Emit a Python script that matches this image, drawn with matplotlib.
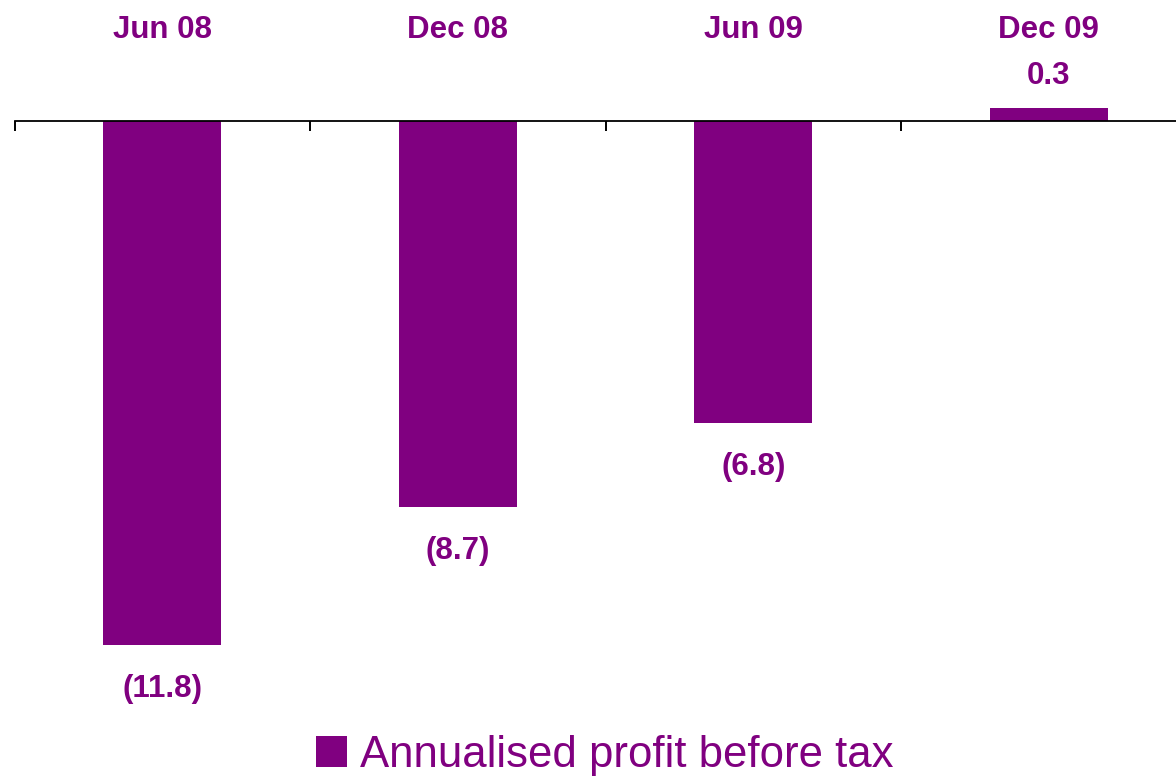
import numpy as np
import matplotlib
matplotlib.use("Agg")
import matplotlib.pyplot as plt
from matplotlib.transforms import blended_transform_factory

plt.rcParams['font.family'] = ['Liberation Sans', 'DejaVu Sans']

# data
periods = ["Jun 08", "Dec 08", "Jun 09", "Dec 09"]
profit = [-11.8, -8.7, -6.8, 0.3]
series_name = "Annualised profit before tax"

purple = "#800080"

fig = plt.figure(figsize=(11.76, 7.78), dpi=100)
W, H = 1176, 778
# axes: x from pixel 14.5, one category = 295.5 px; zero line at pixel 121
ax = fig.add_axes([14.5 / W, 78 / H, 1182 / W, 600 / H])

x = np.arange(len(periods))
bars = ax.bar(x, profit, width=0.4, color=purple, zorder=1)

ax.set_xlim(-0.5, 3.5)
px_per_unit = 44.4
ax.set_ylim(-579 / px_per_unit, 21 / px_per_unit)

for s in ["top", "left", "right"]:
    ax.spines[s].set_visible(False)
ax.spines["bottom"].set_position(("data", 0))
ax.spines["bottom"].set_linewidth(1.3)
ax.spines["bottom"].set_zorder(3)
ax.set_yticks([])
ax.set_xticks(np.arange(-0.5, len(periods), 1.0))
ax.set_xticklabels([])
ax.tick_params(axis="x", direction="out", length=7.5, width=1.4, color="black")

# category labels along the top
trans = blended_transform_factory(ax.transData, fig.transFigure)
for i, p in enumerate(periods):
    ax.text(i, 1 - 30 / H, p, transform=trans, ha="center", va="center",
            fontsize=22.5, fontweight="bold", color=purple)

# value labels
for i, v in enumerate(profit):
    txt = "({:.1f})".format(-v) if v < 0 else "{:.1f}".format(v)
    off = -44 if v < 0 else 32
    ax.annotate(txt, (i, v), xytext=(0, off), textcoords="offset pixels",
                ha="center", va="center", fontsize=22.5, fontweight="bold",
                color=purple, annotation_clip=False)

leg = fig.legend([bars], [series_name], loc="center", bbox_to_anchor=(605 / W, 1 - 755 / H),
                 frameon=False, fontsize=31.5, handlelength=0.7, handleheight=0.7,
                 handletextpad=0.3, borderpad=0)
for t in leg.get_texts():
    t.set_color(purple)

fig.savefig("out.png", dpi=100)
